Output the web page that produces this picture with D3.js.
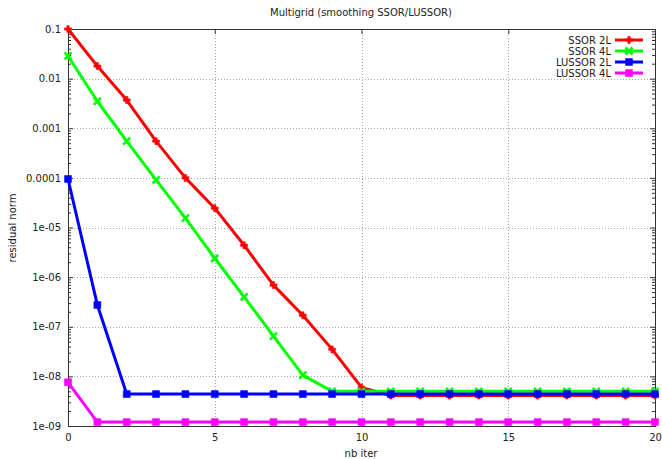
<!DOCTYPE html>
<html>
<head>
<meta charset="utf-8">
<script src="https://cdn.jsdelivr.net/npm/d3@7"></script>
<style>
  body { margin: 0; background: #fff; }
  svg { font-family: "DejaVu Sans", sans-serif; }
</style>
</head>
<body>
<svg id="chart"></svg>
<script>
"use strict";

// values
const iterations = d3.range(0, 21);
const ssor2L = [0.1, 0.0179, 0.0037, 5.5e-4, 1.0e-4, 2.45e-5, 4.4e-6, 6.9e-7, 1.7e-7, 3.5e-8, 6.0e-9,
    4.1e-9, 4.1e-9, 4.1e-9, 4.1e-9, 4.1e-9, 4.1e-9, 4.1e-9, 4.1e-9, 4.1e-9, 4.1e-9];
const ssor4L = [0.0286, 3.5e-3, 5.5e-4, 9.1e-5, 1.55e-5, 2.4e-6, 4.0e-7, 6.5e-8, 1.06e-8, 5.0e-9, 5.0e-9,
    5.0e-9, 5.0e-9, 5.0e-9, 5.0e-9, 5.0e-9, 5.0e-9, 5.0e-9, 5.0e-9, 5.0e-9, 5.0e-9];
const lussor2L = [9.5e-5, 2.75e-7, 4.4e-9, 4.4e-9, 4.4e-9, 4.4e-9, 4.4e-9, 4.4e-9, 4.4e-9, 4.4e-9, 4.4e-9,
    4.4e-9, 4.4e-9, 4.4e-9, 4.4e-9, 4.4e-9, 4.4e-9, 4.4e-9, 4.4e-9, 4.4e-9, 4.4e-9];
const lussor4L = [7.6e-9, 1.2e-9, 1.2e-9, 1.2e-9, 1.2e-9, 1.2e-9, 1.2e-9, 1.2e-9, 1.2e-9, 1.2e-9, 1.2e-9,
    1.2e-9, 1.2e-9, 1.2e-9, 1.2e-9, 1.2e-9, 1.2e-9, 1.2e-9, 1.2e-9, 1.2e-9, 1.2e-9];
const seriesNames = ["SSOR 2L", "SSOR 4L", "LUSSOR 2L", "LUSSOR 4L"];
const seriesColors = ["#ff0000", "#00ff00", "#0000ff", "#ff00ff"];
const xTicks = [0, 5, 10, 15, 20];
const yTicks = [0.1, 0.01, 0.001, 0.0001, 1e-5, 1e-6, 1e-7, 1e-8, 1e-9];
const yTickLabels = ["0.1", "0.01", "0.001", "0.0001", "1e-05", "1e-06", "1e-07", "1e-08", "1e-09"];

const width = 662;
const height = 459;
const margin = { top: 29, right: 7, bottom: 33, left: 68 };

const series = [ssor2L, ssor4L, lussor2L, lussor4L].map((vals, i) => ({
    name: seriesNames[i],
    color: seriesColors[i],
    symbol: i === 0 ? "plus" : i === 1 ? "cross" : "square",
    points: vals.map((v, j) => [iterations[j], v])
}));

const svg = d3.select("#chart")
    .attr("width", width)
    .attr("height", height);

const x = d3.scaleLinear()
    .domain([0, 20])
    .range([margin.left, width - margin.right]);

const y = d3.scaleLog()
    .domain([1e-9, 0.1])
    .range([height - margin.bottom, margin.top]);

// minor log ticks
let minor = [];
for (let e = -9; e < -1; e++) {
    for (let k = 2; k <= 9; k++) minor.push(k * Math.pow(10, e));
}

// grid
const grid = svg.append("g")
    .attr("stroke", "#a8a8a8")
    .attr("stroke-width", 1)
    .attr("stroke-dasharray", "1,2");
grid.selectAll(".gx")
    .data(xTicks.slice(1, -1))
    .enter().append("line")
    .attr("x1", d => Math.round(x(d)) + 0.5).attr("x2", d => Math.round(x(d)) + 0.5)
    .attr("y1", margin.top).attr("y2", height - margin.bottom);
grid.selectAll(".gy")
    .data(yTicks.slice(1, -1))
    .enter().append("line")
    .attr("y1", d => Math.round(y(d)) + 0.5).attr("y2", d => Math.round(y(d)) + 0.5)
    .attr("x1", margin.left).attr("x2", width - margin.right);

// axes with inward ticks, mirrored
const axisColor = "#333";
const gLeft = svg.append("g")
    .attr("transform", `translate(${margin.left},0)`)
    .call(d3.axisLeft(y).tickValues(yTicks).tickSize(-5).tickPadding(7)
        .tickFormat((d, i) => yTickLabels[i]));
gLeft.append("g").call(d3.axisLeft(y).tickValues(minor).tickSize(-3).tickFormat(""));

const gRight = svg.append("g")
    .attr("transform", `translate(${width - margin.right},0)`)
    .call(d3.axisRight(y).tickValues(yTicks).tickSize(-5).tickFormat(""));
gRight.append("g").call(d3.axisRight(y).tickValues(minor).tickSize(-3).tickFormat(""));

svg.append("g")
    .attr("transform", `translate(0,${height - margin.bottom})`)
    .call(d3.axisBottom(x).tickValues(xTicks).tickSize(-5).tickPadding(8).tickFormat(d3.format("d")));

svg.append("g")
    .attr("transform", `translate(0,${margin.top})`)
    .call(d3.axisTop(x).tickValues(xTicks).tickSize(-5).tickFormat(""));

svg.selectAll(".domain").attr("stroke", axisColor);
svg.selectAll(".tick line").attr("stroke", axisColor);
svg.selectAll(".tick text")
    .attr("fill", "#222")
    .style("font-size", "10px")
    .style("font-family", "DejaVu Sans, sans-serif");

// lines
const line = d3.line()
    .x(d => x(d[0]))
    .y(d => y(d[1]));

const symbolPath = {
    plus: "M-3.5,-1.2H-1.2V-3.5H1.2V-1.2H3.5V1.2H1.2V3.5H-1.2V1.2H-3.5Z",
    cross: "M-3.5,-3.5L3.5,3.5M-3.5,3.5L3.5,-3.5",
    square: "M-3.5,-3.5H3.5V3.5H-3.5Z"
};

function drawMarker(sel, s) {
    if (s.symbol === "cross") {
        sel.attr("d", symbolPath.cross)
            .attr("fill", "none")
            .attr("stroke", s.color)
            .attr("stroke-width", 2.5);
    } else {
        sel.attr("d", symbolPath[s.symbol])
            .attr("fill", s.color)
            .attr("stroke", s.color)
            .attr("stroke-width", 0.5);
    }
}

for (const s of series) {
    svg.append("path")
        .datum(s.points)
        .attr("fill", "none")
        .attr("stroke", s.color)
        .attr("stroke-width", 3)
        .attr("stroke-linejoin", "round")
        .attr("d", line);
    svg.append("g").selectAll("path")
        .data(s.points)
        .enter().append("path")
        .attr("transform", d => `translate(${x(d[0])},${y(d[1])})`)
        .call(drawMarker, s);
}

// legend
const legend = svg.append("g").attr("transform", "translate(611,40)");
series.forEach((s, i) => {
    const g = legend.append("g").attr("transform", `translate(0,${i * 11})`);
    g.append("text")
        .attr("x", 0).attr("y", 0)
        .attr("dy", "0.35em")
        .attr("text-anchor", "end")
        .attr("fill", "#222")
        .style("font-size", "10px")
        .text(s.name);
    g.append("line")
        .attr("x1", 4).attr("x2", 32)
        .attr("y1", 0).attr("y2", 0)
        .attr("stroke", s.color)
        .attr("stroke-width", 3);
    g.append("path")
        .attr("transform", "translate(18,0)")
        .call(drawMarker, s);
});

// title and axis labels
svg.append("text")
    .attr("x", 361).attr("y", 16)
    .attr("text-anchor", "middle")
    .attr("fill", "#222")
    .style("font-size", "10px")
    .text("Multigrid (smoothing SSOR/LUSSOR)");

svg.append("text")
    .attr("x", 361).attr("y", 457)
    .attr("text-anchor", "middle")
    .attr("fill", "#222")
    .style("font-size", "10px")
    .text("nb iter");

svg.append("text")
    .attr("transform", "translate(16,228) rotate(-90)")
    .attr("text-anchor", "middle")
    .attr("fill", "#222")
    .style("font-size", "10px")
    .text("residual norm");
</script>
</body>
</html>
